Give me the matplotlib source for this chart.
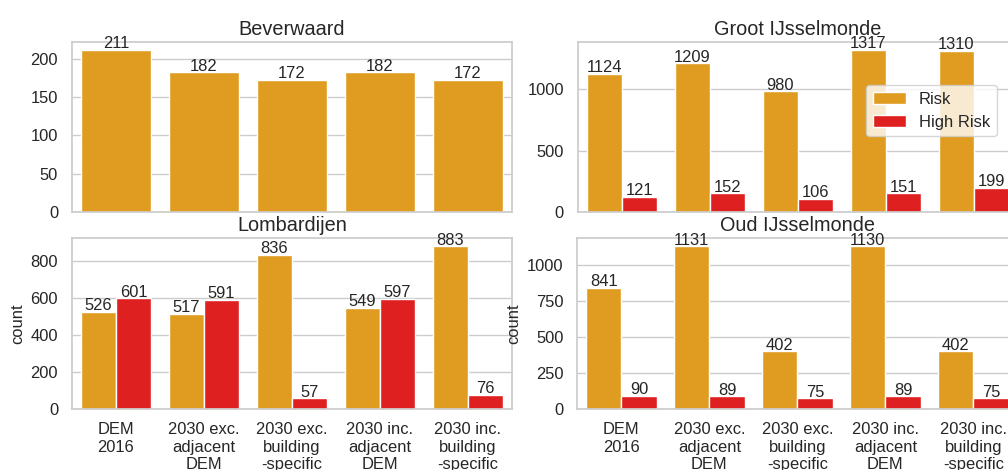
import matplotlib
matplotlib.use("Agg")
import matplotlib.pyplot as plt
import numpy as np
import seaborn as sns

sns.set_theme(style="whitegrid")
plt.rcParams["font.family"] = ["Liberation Sans", "DejaVu Sans"]

scenarios = [
    "DEM\n2016",
    "2030 exc.\nadjacent\nDEM",
    "2030 exc.\nbuilding\n-specific\nDEM",
    "2030 inc.\nadjacent\nDEM",
    "2030 inc.\nbuilding\n-specific\nDEM",
]
risk_levels = ["Risk", "High Risk"]

beverwaard_risk = [211, 182, 172, 182, 172]
beverwaard_high = []  # no high-risk buildings

groot_risk = [1124, 1209, 980, 1317, 1310]
groot_high = [121, 152, 106, 151, 199]

lombardijen_risk = [526, 517, 836, 549, 883]
lombardijen_high = [601, 591, 57, 597, 76]

oud_risk = [841, 1131, 402, 1130, 402]
oud_high = [90, 89, 75, 89, 75]

colors = {"Risk": "#DF9C20", "High Risk": "#DF2020"}

fig = plt.figure(figsize=(10.08, 4.70), dpi=100)
W = 0.4365
ax_bev = fig.add_axes([0.0714, 0.549, W, 0.3617])
ax_gro = fig.add_axes([0.5732, 0.549, W, 0.3617])
ax_lom = fig.add_axes([0.0714, 0.1298, W, 0.3638])
ax_oud = fig.add_axes([0.5728, 0.1298, W, 0.3638])

panels = [
    (ax_bev, "Beverwaard", beverwaard_risk, beverwaard_high, False),
    (ax_gro, "Groot IJsselmonde", groot_risk, groot_high, False),
    (ax_lom, "Lombardijen", lombardijen_risk, lombardijen_high, True),
    (ax_oud, "Oud IJsselmonde", oud_risk, oud_high, True),
]

x = np.arange(len(scenarios))
for ax, title, risk, high, bottom in panels:
    series = [("Risk", risk)]
    if len(high):
        series.append(("High Risk", high))
    n = len(series)
    width = 0.8 / n
    for i, (name, vals) in enumerate(series):
        offs = (i - (n - 1) / 2) * width
        bars = ax.bar(x + offs, vals, width, color=colors[name], label=name,
                      edgecolor="white", linewidth=1)
        ax.bar_label(bars, padding=-1, fontsize=11.9, color="#262626")
    ax.set_xlim(-0.5, len(scenarios) - 0.5)
    ax.set_title(title, fontsize=14.3, color="#262626", pad=5)
    ax.grid(axis="x", visible=False)
    ax.tick_params(axis="y", labelsize=11.9, colors="#262626", pad=4)
    ax.set_xticks(x)
    if bottom:
        ax.set_xticklabels(scenarios, fontsize=11.9, color="#262626")
        ax.set_ylabel("count", fontsize=11.9, color="#262626")
    else:
        ax.set_xticklabels([])
    for s in ax.spines.values():
        s.set_color("#cccccc")

ax_lom.set_yticks([0, 200, 400, 600, 800])
ax_oud.set_yticks([0, 250, 500, 750, 1000])
ax_gro.set_yticks([0, 500, 1000])
ax_bev.set_yticks([0, 50, 100, 150, 200])

leg = ax_gro.legend(loc="upper right", bbox_to_anchor=(0.952, 0.747),
                    borderaxespad=0, fontsize=11.9, framealpha=0.8)
leg.get_frame().set_edgecolor("#cccccc")

fig.savefig("out.png", dpi=100)
